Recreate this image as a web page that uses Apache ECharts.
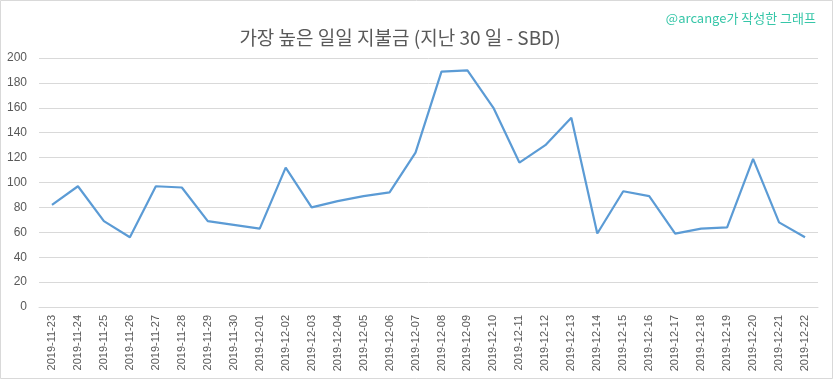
<!DOCTYPE html>
<html>
<head>
<meta charset="utf-8">
<script src="https://cdn.jsdelivr.net/npm/echarts@6/dist/echarts.min.js"></script>
<style>
html,body{margin:0;padding:0;background:#fff;}
#c{width:833px;height:379px;}
</style>
</head>
<body>
<div id="c"></div>
<script>
const categories = ['2019-11-23','2019-11-24','2019-11-25','2019-11-26','2019-11-27','2019-11-28','2019-11-29','2019-11-30','2019-12-01','2019-12-02','2019-12-03','2019-12-04','2019-12-05','2019-12-06','2019-12-07','2019-12-08','2019-12-09','2019-12-10','2019-12-11','2019-12-12','2019-12-13','2019-12-14','2019-12-15','2019-12-16','2019-12-17','2019-12-18','2019-12-19','2019-12-20','2019-12-21','2019-12-22'];
const payouts = [82,97,69,56,97,96,69,66,63,112,80,85,89,92,124,189,190,160,116,130,152,59,93,89,59,63,64,119,68,56];
const titleText = '가장 높은 일일 지불금 (지난 30 일 - SBD)';
const creditText = '@arcange가 작성한 그래프';

const chart = echarts.init(document.getElementById('c'), null, {renderer:'canvas'});
const baseFont = '"Liberation Sans", "Noto Sans CJK KR", sans-serif';
chart.setOption({
  animation:false,
  backgroundColor:'#ffffff',
  title:[{
    text:titleText, left:395, top:23, textAlign:'center',
    textStyle:{fontFamily:'"Noto Sans CJK KR", sans-serif', fontSize:19, fontWeight:'normal', color:'#595959'}
  },{
    text:creditText, right:12, top:7,
    textStyle:{fontFamily:'"Noto Sans CJK KR", sans-serif', fontSize:13, fontWeight:'normal', color:'#36c6a8'}
  }],
  graphic:[{type:'rect', shape:{x:0.5,y:0.5,width:832,height:378}, style:{fill:null, stroke:'#d9d9d9', lineWidth:1}, silent:true}],
  grid:{left:39, right:15, top:58, bottom:72, containLabel:false},
  xAxis:{
    type:'category', data:categories, boundaryGap:true,
    axisLine:{lineStyle:{color:'#d9d9d9'}},
    axisTick:{show:false},
    axisLabel:{rotate:90, interval:0, fontSize:11, color:'#595959', fontFamily:baseFont, margin:8}
  },
  yAxis:{
    type:'value', min:0, max:200, interval:20,
    axisLine:{show:false}, axisTick:{show:false},
    splitLine:{lineStyle:{color:'#d9d9d9'}},
    axisLabel:{fontSize:12, color:'#595959', fontFamily:baseFont, margin:12}
  },
  series:[{
    type:'line', data:payouts, symbol:'none',
    lineStyle:{color:'#5b9bd5', width:2.2}
  }]
});
</script>
</body>
</html>
